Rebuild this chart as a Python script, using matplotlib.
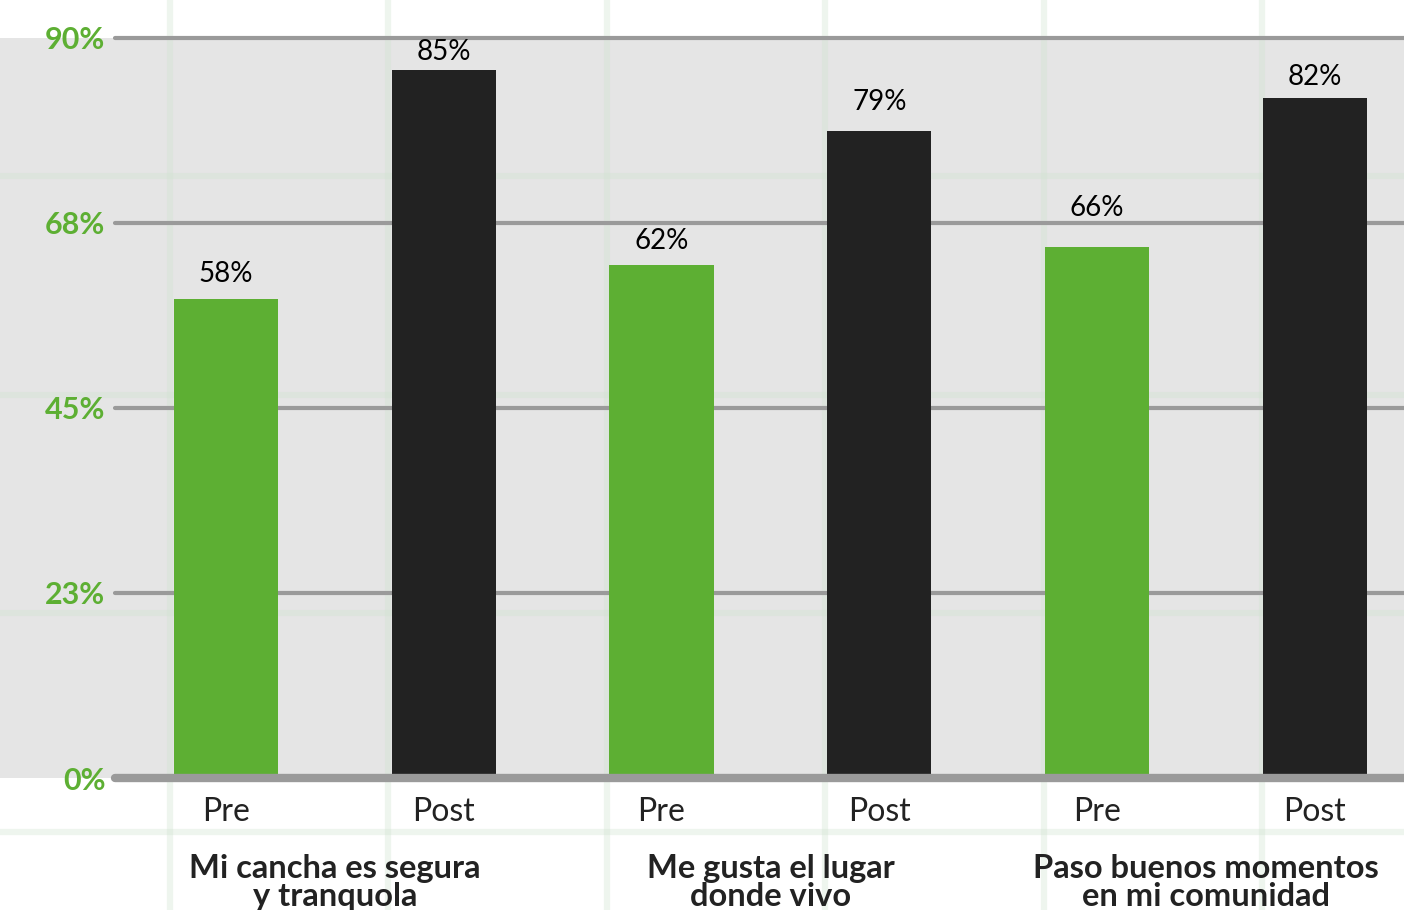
import numpy as np
import matplotlib
matplotlib.use("Agg")
import matplotlib.pyplot as plt
from matplotlib.patches import Rectangle
from matplotlib.lines import Line2D
from matplotlib.transforms import blended_transform_factory

# data
bar_names = ["Pre", "Post", "Pre", "Post", "Pre", "Post"]
bar_values = [58.3, 86.1, 62.4, 78.7, 64.6, 82.7]
bar_labels = [58, 85, 62, 79, 66, 82]
groups = ["Mi cancha es segura\ny tranquola",
          "Me gusta el lugar\ndonde vivo",
          "Paso buenos momentos\nen mi comunidad"]
y_ticks = [0, 22.5, 45, 67.5, 90]
y_tick_labels = ["0%", "23%", "45%", "68%", "90%"]

GREEN = "#5daf33"
DARK = "#222222"
LINE = "#9a9a9a"
BG = "#e5e5e5"

plt.rcParams["font.family"] = ["Lato", "DejaVu Sans"]

W, H = 1404, 910
fig = plt.figure(figsize=(W / 100, H / 100), dpi=100)
fig.patch.set_facecolor("white")
ax = fig.add_axes([115 / W, 1 - 778 / H, 1 - 115 / W, 740 / H])
ax.set_facecolor("none")

x = np.arange(len(bar_values))
ax.set_xlim(-0.51, 5.41)
ax.set_ylim(0, 90)

# gray panel behind the plot, reaching the left edge of the figure
tr = blended_transform_factory(fig.transFigure, ax.transData)
fig.patches.append(Rectangle((0, 0), 1, 90, transform=tr, facecolor=BG,
                             edgecolor="none", zorder=-10))

# faint tinted grid across the whole picture
for gx in 170 + 218.4 * np.arange(6):
    fig.lines.append(Line2D([gx / W, gx / W], [0, 1], transform=fig.transFigure,
                            color="#cfe3cf", alpha=0.35, lw=4.5, zorder=-9))
for gy in 176 + 218.6 * np.arange(4):
    fig.lines.append(Line2D([0, 1], [1 - gy / H, 1 - gy / H], transform=fig.transFigure,
                            color="#cfe3cf", alpha=0.35, lw=4.5, zorder=-9))

# horizontal value lines
for t in y_ticks[1:]:
    ax.axhline(t, color=LINE, lw=3, solid_capstyle="round", clip_on=False, zorder=1)
ax.axhline(0, color=LINE, lw=6, solid_capstyle="round", clip_on=False, zorder=4)

colors = [GREEN if n == "Pre" else DARK for n in bar_names]
ax.bar(x, bar_values, width=0.478, color=colors, zorder=3)

for xi, lab in zip(x, bar_labels):
    ax.text(xi, lab + 2.3, f"{lab}%", ha="center", va="baseline",
            fontsize=20, color="black", zorder=5)

ax.set_yticks(y_ticks)
ax.set_yticklabels(y_tick_labels, fontsize=22, fontweight="bold", color=GREEN)
ax.set_xticks(x)
ax.set_xticklabels(bar_names, fontsize=23, color=DARK)
ax.tick_params(axis="y", length=0, pad=7)
ax.tick_params(axis="x", length=0, pad=14)
for s in ax.spines.values():
    s.set_visible(False)

for gi, g in enumerate(groups):
    ax.text(2 * gi + 0.5, -0.1415, g, transform=ax.get_xaxis_transform(),
            ha="center", va="center", fontsize=23.5, fontweight="bold",
            color=DARK, linespacing=0.98, clip_on=False)

fig.savefig("out.png", dpi=100)
